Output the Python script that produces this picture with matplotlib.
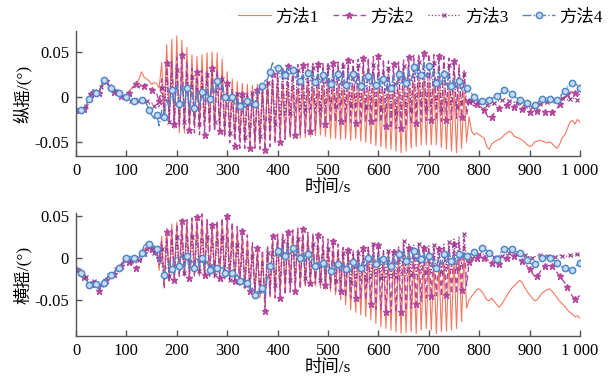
import numpy as np
import matplotlib
matplotlib.use("Agg")
import matplotlib.pyplot as plt

plt.rcParams['font.serif'] = ['Liberation Serif', 'DejaVu Serif']
plt.rcParams['font.family'] = ['serif', 'Noto Sans CJK SC']

# time axis, one sample every 5 s
t = np.arange(0, 1001, 5)

# values in 0.001 deg (20 samples = 100 s per row)
pitch_m1 = [
    -13, -15, -14, -12, -10, -2, 5, 8, 4, 5, 12, 19, 20, 13, 10, 7, 8, 4, 3, 1,
    2, 5, 10, 12, 15, 20, 28, 22, 20, 18, 14, 16, 15, 10, 38, -18, 58, -28, 64, -35,
    68, -40, 63, -40, 55, -35, 47, -30, 45, -30, 47, -32, 49, -35, 50, -35, 49, -38, 42, -40,
    28, -42, 20, -45, 17, -48, 15, -50, 14, -52, 13, -53, 14, -52, 15, -50, 18, -45, 20, -44,
    14, -44, 10, -46, 12, -45, 14, -44, 10, -46, 12, -45, 15, -44, 12, -43, 10, -42, 12, -44,
    13, -46, 10, -46, 12, -47, 9, -46, 10, -48, 12, -46, 10, -49, 9, -50, 8, -52, 10, -54,
    8, -55, 6, -57, 7, -58, 6, -60, 8, -62, 10, -60, 13, -57, 16, -55, 19, -53, 20, -53,
    17, -53, 14, -53, 12, -56, 10, -58, 9, -60, 7, -62, 6, -57, 5, -50, -22, -38, -42, -40,
    -42, -44, -46, -55, -58, -52, -50, -48, -47, -45, -42, -40, -38, -40, -44, -45, -46, -48, -50, -53,
    -55, -54, -50, -49, -48, -49, -50, -51, -50, -52, -55, -57, -52, -45, -42, -35, -28, -26, -30, -25,
    -28]
pitch_m2 = [
    -14, -17, -15, -13, -11, -3, 3, 6, 2, 4, 10, 16, 18, 12, 9, 6, 6, 3, 1, 0,
    1, 4, 8, 12, 14, 10, 15, 12, 14, 10, 8, 6, 4, -5, 20, -20, 38, -25, 40, -30,
    44, -33, 47, -35, 40, -37, 32, -40, 28, -42, 30, -42, 30, -40, 32, -38, 30, -38, 25, -45,
    15, -51, 8, -54, 5, -57, 3, -57, 5, -57, 5, -57, 8, -58, 10, -59, 20, -55, 25, -52,
    30, -50, 32, -47, 34, -44, 35, -42, 36, -42, 36, -40, 37, -38, 37, -37, 37, -34, 37, -30,
    37, -28, 38, -27, 39, -27, 40, -28, 41, -28, 41, -29, 42, -29, 43, -28, 44, -27, 45, -27,
    45, -28, 42, -32, 40, -35, 37, -35, 39, -35, 41, -33, 44, -30, 47, -29, 48, -27, 49, -26,
    48, -26, 47, -26, 46, -27, 45, -26, 43, -25, 40, -24, 36, -22, 30, -20, -5, -8, -10, -8,
    -10, -12, -14, -20, -24, -22, -18, -15, -12, -10, -9, -9, -9, -10, -11, -10, -12, -13, -14, -15,
    -17, -20, -20, -16, -14, -15, -17, -20, -20, -17, -14, -12, -8, -3, 0, 3, 5, 6, 4, 2,
    3]
pitch_m3 = [
    -13, -15, -14, -12, -10, -3, 4, 7, 3, 5, 11, 18, 19, 12, 9, 6, 7, 3, 2, 0,
    -1, -3, -5, -3, -6, -4, -7, -3, -5, -8, -6, -10, -8, -12, 10, -22, 25, -28, 28, -30,
    30, -30, 28, -28, 25, -28, 22, -30, 20, -30, 22, -30, 24, -28, 25, -28, 24, -30, 20, -35,
    10, -40, 5, -42, 3, -43, 2, -44, 3, -44, 4, -44, 6, -43, 8, -42, 15, -38, 20, -30,
    25, -25, 28, -20, 29, -18, 30, -16, 30, -15, 31, -15, 31, -14, 32, -14, 32, -13, 32, -12,
    33, -10, 33, -10, 34, -10, 34, -10, 35, -10, 35, -11, 35, -11, 36, -11, 36, -12, 36, -12,
    36, -14, 34, -16, 32, -18, 31, -18, 32, -17, 34, -16, 36, -14, 38, -13, 39, -12, 40, -12,
    39, -12, 38, -12, 37, -13, 36, -13, 35, -12, 33, -11, 30, -10, 26, -8, -2, -4, -5, -6,
    -6, -7, -8, -9, -10, -9, -7, -5, -4, -3, -2, -3, -4, -5, -6, -7, -8, -9, -10, -11,
    -12, -11, -10, -9, -8, -8, -7, -6, -5, -5, -4, -3, -2, -1, -2, -3, -2, -1, -2, -3,
    -3]
pitch_m4 = [
    -13, -15, -14, -12, -10, -2, 5, 8, 4, 5, 12, 19, 20, 13, 10, 7, 8, 4, 3, 1,
    0, -2, -3, -5, -2, -1, -3, -6, -8, -14, -20, -24, -20, -32, -15, -22, -3, -12, 8, -8,
    12, -8, 15, -10, 10, -12, 5, -12, 4, -10, 6, -6, 10, -2, 14, 5, 18, 8, 15, 0,
    2, -6, 0, -8, -2, -10, -3, -12, -4, -10, -2, -8, 5, 8, 12, 18, 20, 28, 38, 30,
    32, 22, 30, 24, 33, 24, 30, 20, 26, 18, 25, 19, 27, 18, 26, 17, 25, 16, 24, 15,
    25, 14, 26, 16, 25, 14, 24, 13, 25, 15, 26, 15, 24, 12, 22, 12, 23, 14, 24, 13,
    22, 10, 20, 8, 21, 10, 24, 12, 26, 14, 28, 16, 30, 18, 33, 22, 36, 24, 38, 22,
    34, 20, 30, 16, 28, 14, 26, 12, 24, 12, 20, 10, 18, 8, 15, 10, 5, 4, 0, -3,
    -3, -4, -5, -4, -3, -2, 0, 1, 3, 5, 8, 8, 6, 3, 0, -1, -3, -4, -5, -7,
    -8, -9, -9, -7, -4, -2, -1, -1, -2, -4, -5, -3, 0, 4, 7, 11, 14, 15, 15, 13,
    10]

roll_m1 = [
    -12, -15, -18, -22, -24, -32, -30, -28, -31, -38, -34, -30, -25, -22, -20, -19, -14, -12, -8, -4,
    0, -1, -2, -4, -5, 2, 8, 10, 12, 14, 15, 12, 10, -15, 25, -30, 35, -28, 40, -25,
    42, -22, 43, -22, 45, -23, 46, -22, 47, -22, 48, -22, 45, -23, 40, -24, 42, -24, 44, -25,
    45, -27, 38, -30, 33, -33, 28, -37, 22, -40, 15, -43, 10, -48, 6, -55, 10, -45, 22, -45,
    26, -44, 28, -40, 30, -38, 31, -36, 32, -35, 30, -34, 26, -33, 22, -34, 18, -36, 15, -38,
    14, -40, 12, -44, 10, -50, 8, -56, 6, -62, 5, -65, 4, -68, 5, -70, 6, -74, 8, -78,
    10, -82, 6, -84, 2, -86, 0, -88, 2, -90, 5, -89, 2, -88, 0, -90, -2, -86, -4, -84,
    -5, -86, -6, -90, -8, -88, -5, -87, -3, -86, 0, -84, 3, -76, 5, -60, -50, -46, -42, -38,
    -37, -40, -45, -50, -51, -48, -52, -56, -59, -55, -50, -45, -40, -36, -33, -30, -27, -29, -35, -40,
    -44, -48, -51, -50, -46, -42, -40, -38, -37, -40, -44, -48, -52, -55, -58, -62, -65, -67, -70, -69,
    -72]
roll_m2 = [
    -13, -16, -19, -23, -25, -33, -31, -30, -32, -40, -35, -31, -26, -23, -21, -19, -15, -13, -10, -6,
    -4, -5, -6, -10, -12, -12, -2, 6, 12, 12, 10, 8, 5, 0, 20, -37, 30, -30, 35, -26,
    40, -22, 43, -23, 45, -24, 47, -22, 48, -20, 52, -20, 45, -22, 39, -22, 44, -24, 47, -25,
    50, -25, 42, -28, 37, -33, 32, -36, 27, -40, 18, -41, 12, -45, 9, -63, 15, -47, 26, -48,
    28, -48, 30, -44, 31, -41, 33, -39, 35, -37, 34, -33, 30, -30, 29, -31, 27, -32, 25, -33,
    22, -36, 20, -39, 16, -39, 12, -47, 9, -48, 8, -48, 9, -48, 11, -50, 14, -55, 18, -61,
    15, -62, 8, -65, 6, -65, 7, -65, 12, -64, 16, -63, 12, -60, 11, -55, 12, -52, 12, -48,
    11, -45, 11, -45, 10, -46, 11, -44, 13, -43, 16, -43, 18, -38, 22, -33, -5, -4, -2, 0,
    2, 1, 0, -2, -4, -6, -10, -12, -8, -4, -2, 0, 2, 3, 2, 0, -2, -4, -6, -10,
    -14, -18, -22, -22, -18, -12, -10, -8, -8, -10, -14, -18, -22, -26, -30, -35, -40, -46, -49, -47,
    -45]
roll_m3 = [
    -12, -15, -17, -21, -23, -31, -29, -28, -30, -36, -33, -29, -24, -21, -19, -18, -13, -11, -7, -3,
    -2, -3, -4, -6, -6, -3, 3, 8, 10, 11, 10, 6, 0, -8, 10, -28, 18, -22, 20, -20,
    24, -20, 25, -18, 26, -18, 25, -18, 24, -16, 26, -18, 25, -20, 22, -20, 24, -22, 25, -24,
    24, -26, 20, -28, 15, -30, 10, -32, 5, -35, 2, -38, -2, -40, -5, -48, 5, -38, 15, -32,
    18, -30, 20, -28, 22, -26, 22, -25, 22, -24, 20, -24, 18, -24, 16, -25, 14, -26, 12, -27,
    10, -28, 8, -28, 6, -30, 5, -30, 4, -30, 5, -28, 6, -28, 8, -26, 12, -26, 16, -24,
    12, -24, 8, -25, 8, -24, 10, -23, 14, -22, 20, -22, 16, -20, 15, -20, 16, -18, 15, -18,
    14, -18, 15, -17, 14, -17, 16, -16, 18, -14, 22, -12, 25, -10, 28, -5, 2, 0, 1, 3,
    4, 3, 5, 4, 2, 3, 1, -1, 0, 2, 3, 4, 5, 6, 5, 4, 3, 4, 3, 2,
    1, 0, 1, 2, 3, 2, 1, 2, 3, 2, 1, 2, 3, 2, 1, 2, 3, 2, 3, 4,
    3]
roll_m4 = [
    -12, -15, -18, -22, -24, -32, -30, -28, -31, -38, -34, -30, -25, -22, -20, -19, -14, -12, -8, -4,
    0, 2, 1, 0, -2, 0, 6, 14, 17, 16, 12, 14, 10, -2, -8, -20, -12, -6, -14, -2,
    2, -10, 4, -12, 2, -14, -2, -12, 0, -10, -1, -12, -4, -15, -8, -18, -12, -16, -10, -18,
    -12, -22, -18, -24, -20, -28, -25, -32, -30, -38, -36, -44, -40, -42, -36, -44, -20, -10, 0, 2,
    8, 0, 10, 2, 12, 4, 12, 2, 10, 0, 8, -4, 4, -6, 0, -10, -4, -12, -6, -14,
    -8, -16, -6, -14, -8, -16, -6, -14, -8, -16, -5, -13, -6, -12, -2, -10, 0, -6, 4, -8,
    2, -10, -2, -12, 0, -10, 2, -8, 4, -6, 10, -4, 6, -6, 8, -4, 8, -2, 6, -6,
    2, -10, -2, -12, 0, -8, 4, -6, 6, -4, 2, -8, 4, -2, 6, 2, 5, 4, 7, 9,
    10, 11, 10, 9, 6, 3, 0, -2, 3, 8, 10, 10, 11, 10, 9, 7, 5, 3, 0, -3,
    -6, -8, -8, -5, -2, 0, 1, 0, -1, -3, -4, -6, -9, -11, -12, -14, -16, -15, -12, -8,
    -6]

labels = ['方法1', '方法2', '方法3', '方法4']
xticks = list(range(0, 1001, 100))
xticklabels = ['0', '100', '200', '300', '400', '500', '600', '700', '800', '900', '1 000']

styles = [
    dict(color='#F4775E', lw=0.8, ls='-'),
    dict(color='#B5479F', lw=1.0, ls=(0, (4, 2.5)), marker='*', ms=4.5, markevery=(0, 3)),
    dict(color='#93358A', lw=0.9, ls=':', marker='x', ms=3, mew=0.8, markevery=(1, 3)),
    dict(color='#4F87C9', lw=1.0, ls='-.', marker='o', ms=4.5, mfc='#C9DBF1', mew=1.1,
         markevery=(2, 3)),
]

fig = plt.figure(figsize=(6.14, 3.82), dpi=100)
ax1 = fig.add_axes([0.1238, 0.5916, 0.8208, 0.3272])
ax2 = fig.add_axes([0.1238, 0.1204, 0.8208, 0.3220])

def draw(ax, series, ylabel, ylim):
    for s, lab, st in zip(series, labels, styles):
        ax.plot(t, np.array(s) / 1000.0, label=lab, **st)
    ax.set_xlim(0, 1000)
    ax.set_ylim(*ylim)
    ax.set_xticks(xticks)
    ax.set_xticklabels(xticklabels)
    ax.set_yticks([-0.05, 0, 0.05])
    ax.set_yticklabels(['-0.05', '0', '0.05'])
    for side in ['top', 'right']:
        ax.spines[side].set_visible(False)
    for side in ['left', 'bottom']:
        ax.spines[side].set_color('#555555')
        ax.spines[side].set_linewidth(1.0)
    ax.tick_params(direction='in', length=4, width=1.0, color='#555555',
                   labelsize=12, pad=5)
    ax.set_xlabel('时间/s', fontsize=12.5, labelpad=1)
    ax.set_ylabel(ylabel, fontsize=12.5, labelpad=2)

draw(ax1, [pitch_m1, pitch_m2, pitch_m3, pitch_m4], '纵摇/(°)', (-0.0656, 0.0733))
draw(ax2, [roll_m1, roll_m2, roll_m3, roll_m4], '横摇/(°)', (-0.093, 0.053))

handles, labs = ax1.get_legend_handles_labels()
fig.legend(handles, labs, loc='center', bbox_to_anchor=(0.685, 0.955), ncol=4,
           frameon=False, fontsize=12.5, handlelength=1.9, handletextpad=0.25,
           columnspacing=0.8, markerscale=1.0)

fig.savefig('out.png', dpi=100)
